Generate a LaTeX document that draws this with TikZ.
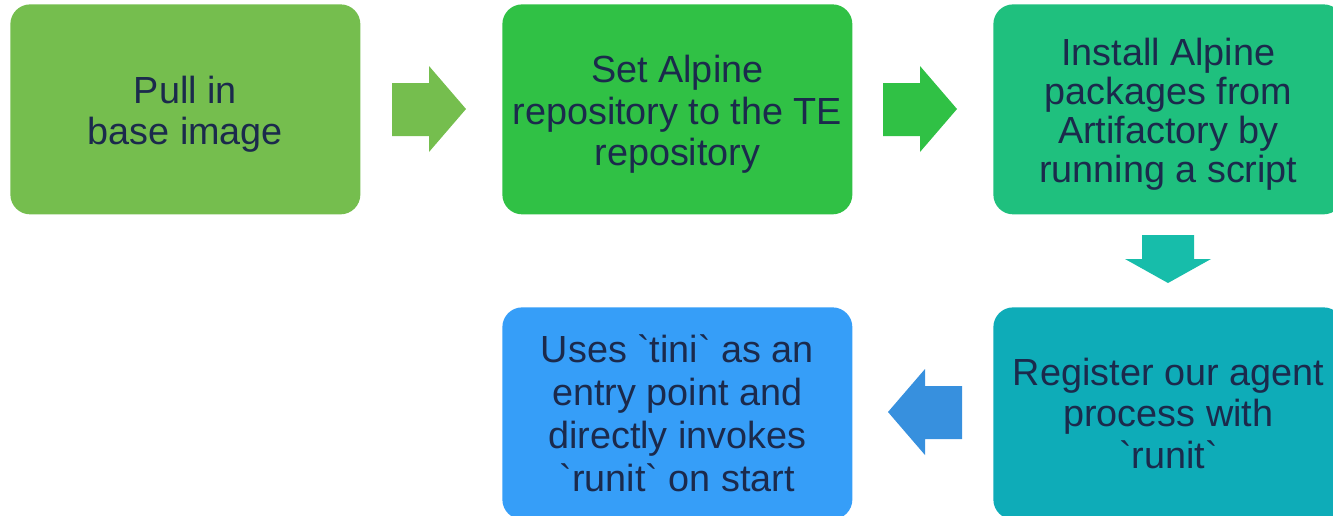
\documentclass[tikz,border=0pt]{standalone}
\usepackage{fontspec}
\setmainfont{Liberation Sans}
\newfontfamily\boxfont{Liberation Sans}
\definecolor{txt}{HTML}{1B2A4C}
\definecolor{cA}{HTML}{75BE4E}
\definecolor{cB}{HTML}{30C145}
\definecolor{cC}{HTML}{1FC07E}
\definecolor{cD}{HTML}{0EACB8}
\definecolor{cE}{HTML}{369EF8}
\definecolor{aA}{HTML}{75BE4E}
\definecolor{aB}{HTML}{30C145}
\definecolor{aC}{HTML}{17BDAA}
\definecolor{aD}{HTML}{3790DE}
\newlength{\pxu}
\setlength{\pxu}{0.02cm}
\tikzset{
  stepbox/.style={rounded corners=11.3pt, minimum width=350\pxu, minimum height=210\pxu,
    inner sep=0pt, anchor=north west},
  lbl/.style={inner sep=0pt, align=center, text=txt,
    font=\boxfont\fontsize{21.5}{23.6}\selectfont},
}
\begin{document}
\begin{tikzpicture}[x=0.02cm, y=-0.02cm]
\useasboundingbox (0,0) rectangle (1333,515);
\clip (0,0) rectangle (1333,515);
\node[stepbox, fill=cA] (s1) at (10,4) {};
\node[stepbox, fill=cB] (s2) at (502,4) {};
\node[stepbox, fill=cC] (s3) at (993,4) {};
\node[stepbox, fill=cD, minimum height=212\pxu] (s4) at (993,307) {};
\node[stepbox, fill=cE, minimum height=212\pxu] (s5) at (502,307) {};
\node[lbl] (t1) at ([yshift=-5\pxu]s1.center) {Pull in\\base image};
\node[lbl] (t2) at ([yshift=-5\pxu]s2.center) {Set Alpine\\repository to the TE\\repository};
\node[lbl, font=\boxfont\fontsize{21.5}{22.2}\selectfont] (t3) at ([yshift=-5\pxu]s3.center) {Install Alpine\\packages from\\Artifactory by\\running a script};
\node[lbl] (t4) at (s4.center) {Register our agent\\process with\\`runit`};
\node[lbl, font=\boxfont\fontsize{21.5}{24.4}\selectfont] (t5) at (s5.center) {Uses `tini` as an\\entry point and\\directly invokes\\`runit` on start};
% block arrows
\fill[aA] (392,83) -- (429,83) -- (429,66) -- (466,109) -- (429,152) -- (429,136) -- (392,136) -- cycle;
\fill[aB] (883,83) -- (920,83) -- (920,66) -- (957,109) -- (920,152) -- (920,136) -- (883,136) -- cycle;
\fill[aC] (1142,235) -- (1194,235) -- (1194,259) -- (1211,259) -- (1168,283) -- (1125,259) -- (1142,259) -- cycle;
\fill[aD] (962,386) -- (925,386) -- (925,369) -- (888,412) -- (925,455) -- (925,439) -- (962,439) -- cycle;
\end{tikzpicture}
\end{document}
